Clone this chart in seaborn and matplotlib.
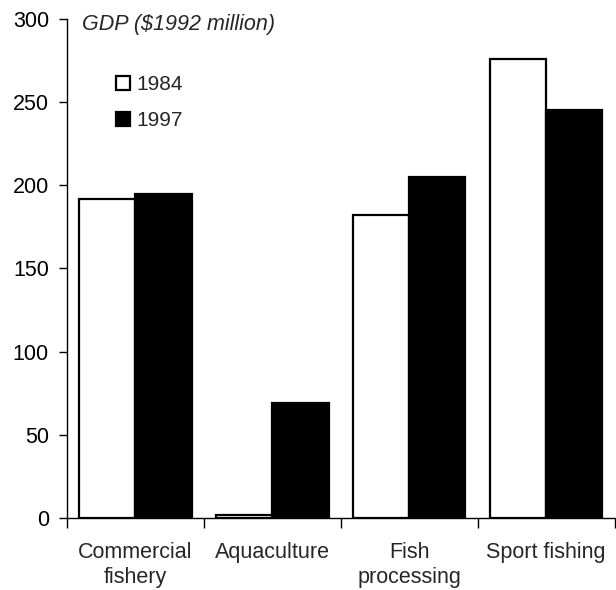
import numpy as np
import pandas as pd
import seaborn as sns
import matplotlib.pyplot as plt
from matplotlib.ticker import FixedLocator

# values
sectors = ['Commercial\nfishery', 'Aquaculture', 'Fish\nprocessing', 'Sport fishing']
gdp_1984 = [192, 2, 182, 276]
gdp_1997 = [195, 69, 205, 245]
years = ['1984', '1997']
yticks = [0, 50, 100, 150, 200, 250, 300]

df = pd.DataFrame({'sector': sectors * 2,
                   'year': [years[0]] * 4 + [years[1]] * 4,
                   'gdp': gdp_1984 + gdp_1997})

sns.set_style('white')
plt.rcParams['font.family'] = ['Liberation Sans', 'DejaVu Sans']

fig = plt.figure(figsize=(6.16, 5.90), dpi=100)
ax = fig.add_axes([0.1088, 0.122, 0.889, 0.846])

sns.barplot(data=df, x='sector', y='gdp', hue='year', order=sectors,
            palette={'1984': 'white', '1997': 'black'}, edgecolor='black',
            linewidth=1.6, width=0.82, ax=ax)

ax.set_xlim(-0.5, 3.5)
ax.set_ylim(0, 300)
ax.set_yticks(yticks)
ax.set_xlabel('')
ax.set_ylabel('')

for s in ['top', 'right']:
    ax.spines[s].set_visible(False)
for s in ['left', 'bottom']:
    ax.spines[s].set_color('black')
    ax.spines[s].set_linewidth(1.0)

ax.tick_params(axis='y', left=True, direction='out', length=6, width=1,
               pad=7, labelsize=15.5, colors='black')
ax.tick_params(axis='x', which='major', length=0, pad=17, labelsize=15.5)
ax.xaxis.set_minor_locator(FixedLocator(np.arange(-0.5, 4.0, 1.0)))
ax.tick_params(axis='x', which='minor', bottom=True, direction='out',
               length=7, width=1, color='black')
for lab in ax.get_xticklabels():
    lab.set_linespacing(1.25)

ax.text(0.027, 0.988, 'GDP ($1992 million)', transform=ax.transAxes,
        fontsize=15.5, style='italic', va='center', ha='left')

handles, labels = ax.get_legend_handles_labels()
ax.legend(handles, labels, loc='upper left', bbox_to_anchor=(0.09, 0.887),
          frameon=False, fontsize=15, handlelength=0.65, handleheight=0.65,
          handletextpad=0.3, borderpad=0, borderaxespad=0, labelspacing=0.8)

fig.savefig('out.png', dpi=100)
